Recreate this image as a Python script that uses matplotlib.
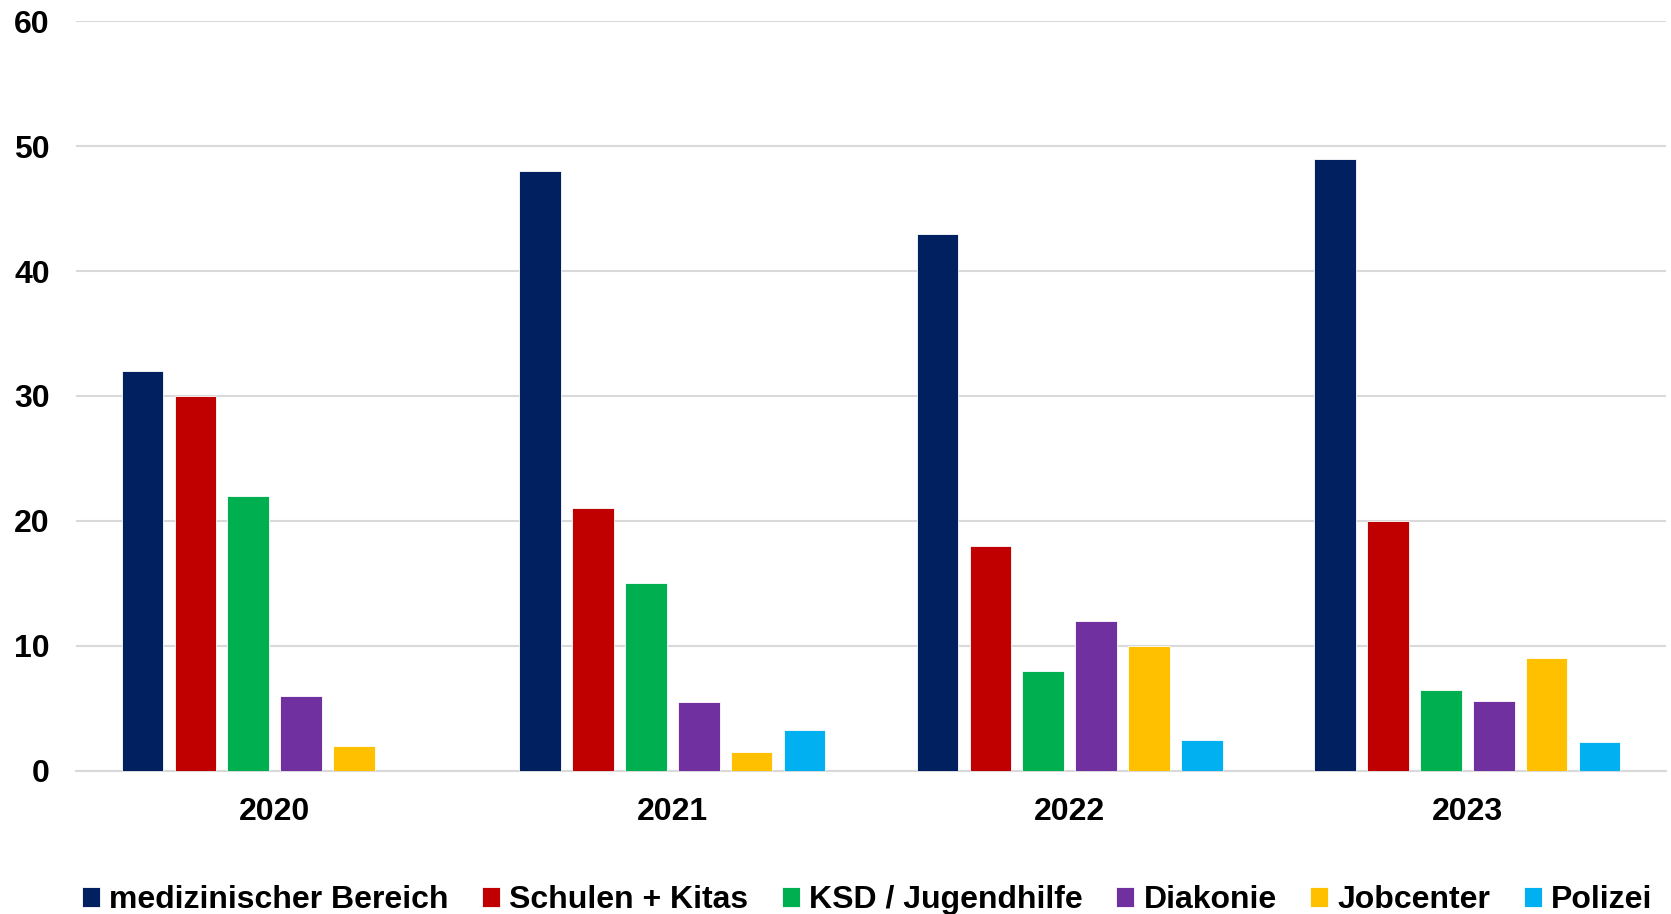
#!/usr/bin/env python

import matplotlib.pyplot as plt
import numpy as np

plt.rcParams["font.family"] = ["Liberation Sans", "DejaVu Sans"]
plt.rcParams["font.weight"] = "bold"

years = ["2020", "2021", "2022", "2023"]
series = [
    "medizinischer Bereich",
    "Schulen + Kitas",
    "KSD / Jugendhilfe",
    "Diakonie",
    "Jobcenter",
    "Polizei",
]
medizin = [32, 48, 43, 49]
schulen = [30, 21, 18, 20]
ksd = [22, 15, 8, 6.5]
diakonie = [6, 5.5, 12, 5.6]
jobcenter = [2, 1.5, 10, 9]
polizei = [0, 3.3, 2.5, 2.3]
colors = ["#002060", "#C00000", "#00B050", "#7030A0", "#FFC000", "#00B0F0"]

values = [medizin, schulen, ksd, diakonie, jobcenter, polizei]
x = np.arange(len(years))
step = 0.133
width = 0.105

fig = plt.figure(figsize=(16.71, 9.14), dpi=100)
ax = fig.add_axes([0.0455, 0.1565, 0.9515, 0.8205])

for i, (name, vals, c) in enumerate(zip(series, values, colors)):
    ax.bar(
        x + (i - 2.5) * step,
        vals,
        width=width,
        color=c,
        edgecolor="white",
        linewidth=0.6,
        label=name,
        zorder=3,
    )

ax.set_xlim(-0.5, len(years) - 0.5)
ax.set_ylim(0, 60)
ax.set_yticks(np.arange(0, 61, 10))
ax.set_xticks(x)
ax.set_xticklabels(years)
ax.grid(axis="y", color="#D9D9D9", linewidth=1.5, zorder=0)
for side in ["top", "right", "left"]:
    ax.spines[side].set_visible(False)
ax.spines["bottom"].set_color("#D9D9D9")
ax.spines["bottom"].set_linewidth(1.5)
ax.tick_params(axis="both", length=0, labelsize=23)
ax.tick_params(axis="x", pad=19)
ax.tick_params(axis="y", pad=19)

fig.legend(
    loc="center",
    bbox_to_anchor=(0.519, 0.015),
    ncol=6,
    frameon=False,
    fontsize=23,
    handlelength=0.55,
    handleheight=0.55,
    handletextpad=0.3,
    columnspacing=1.05,
)

plt.savefig("out.png", dpi=100)
